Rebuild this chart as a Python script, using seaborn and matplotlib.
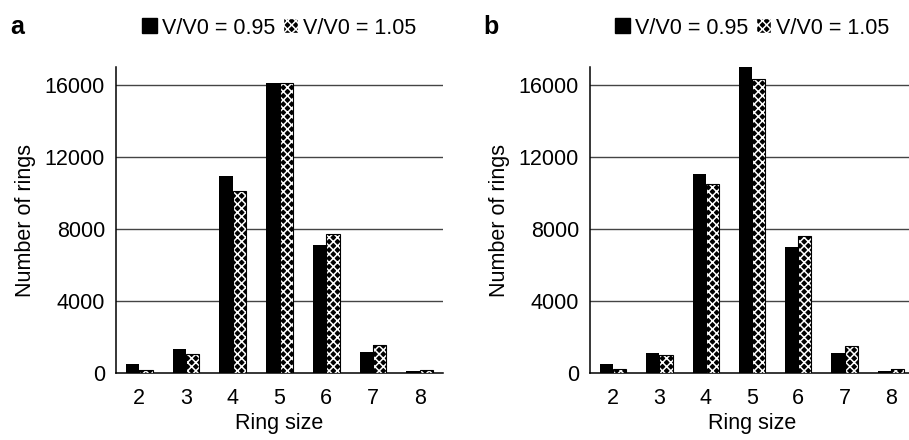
import matplotlib
matplotlib.use("Agg")
import matplotlib.pyplot as plt
import seaborn as sns
import pandas as pd
from matplotlib.patches import Rectangle, Patch

sns.set_style("white")
plt.rcParams['font.family'] = ['Liberation Sans', 'DejaVu Sans']
plt.rcParams['hatch.linewidth'] = 1.1
for k in ['text.color', 'axes.labelcolor', 'xtick.color', 'ytick.color']:
    plt.rcParams[k] = 'black'

ring_sizes = ["2", "3", "4", "5", "6", "7", "8"]
series_names = ["V/V0 = 0.95", "V/V0 = 1.05"]
a_095 = [505, 1350, 10960, 16130, 7090, 1160, 90]
a_105 = [190, 1070, 10090, 16130, 7730, 1570, 190]
b_095 = [520, 1090, 11055, 17000, 6980, 1090, 110]
b_105 = [205, 995, 10495, 16350, 7635, 1480, 205]
y_ticks = [0, 4000, 8000, 12000, 16000]
panel_letters = ["a", "b"]

W, H = 909, 440
fig = plt.figure(figsize=(W / 100, H / 100), dpi=100)

def make_df(v1, v2):
    return pd.DataFrame({
        "ring": ring_sizes * 2,
        "count": list(v1) + list(v2),
        "series": [series_names[0]] * len(ring_sizes) + [series_names[1]] * len(ring_sizes),
    })

# (axes left px, axes right px, legend center px, letter x px, data)
panels = [(116, 443, 279, 10, a_095, a_105), (590, 914, 752, 483, b_095, b_105)]
ax_top, ax_bot = 67, 373
fs = 15.5
HATCH = "xxxx"

for i, (x0, x1, legx, letx, v1, v2) in enumerate(panels):
    ax = fig.add_axes([x0 / W, 1 - ax_bot / H, (x1 - x0) / W, (ax_bot - ax_top) / H])
    df = make_df(v1, v2)
    sns.barplot(data=df, x="ring", y="count", hue="series", order=ring_sizes,
                hue_order=series_names, palette=["black", "black"], width=0.57,
                gap=0, dodge=True, ax=ax, legend=False, zorder=3, linewidth=0)
    n = len(ring_sizes)
    patches = list(ax.patches)
    for p in patches[n:2 * n]:
        p.set_facecolor("black")
        p.set_hatch(HATCH)
        p.set_edgecolor("white")
        ax.add_patch(Rectangle(p.get_xy(), p.get_width(), p.get_height(),
                               fill=False, edgecolor="black", lw=0.8, zorder=4))
    ax.set_xlim(-0.5, n - 0.5)
    ax.set_ylim(0, 17000)
    ax.set_yticks(y_ticks)
    ax.set_yticklabels([str(t) for t in y_ticks], fontsize=fs)
    ax.set_xticks(range(n))
    ax.set_xticklabels(ring_sizes, fontsize=fs)
    ax.set_xticks([k - 0.5 for k in range(n + 1)], minor=True)
    ax.tick_params(axis="x", which="major", length=0, pad=11)
    ax.tick_params(axis="x", which="minor", length=7, width=1, direction="out", color="black")
    ax.tick_params(axis="y", which="major", length=10, width=1, direction="inout", color="black", pad=3)
    for t in y_ticks[1:]:
        ax.axhline(t, color="#444444", lw=1, zorder=1)
    for s in ["top", "right"]:
        ax.spines[s].set_visible(False)
    for s in ["left", "bottom"]:
        ax.spines[s].set_color("black")
        ax.spines[s].set_linewidth(1.1)
    ax.set_xlabel("Ring size", fontsize=fs, labelpad=3)
    ax.set_ylabel("Number of rings", fontsize=fs, labelpad=6)

    handles = [Patch(facecolor="black", edgecolor="black", label=series_names[0]),
               Patch(facecolor="black", edgecolor="white", hatch=HATCH, label=series_names[1])]
    fig.legend(handles=handles, loc="center", bbox_to_anchor=(legx / W, 1 - 28 / H),
               bbox_transform=fig.transFigure,
               ncol=2, frameon=False, fontsize=fs, handlelength=0.7, handleheight=0.7,
               handletextpad=0.25, columnspacing=0.35, borderaxespad=0, borderpad=0)
    fig.text(letx / W, 1 - 27 / H, panel_letters[i], fontsize=18, fontweight="bold",
             va="center", ha="left")

fig.savefig("out.png", dpi=100)
